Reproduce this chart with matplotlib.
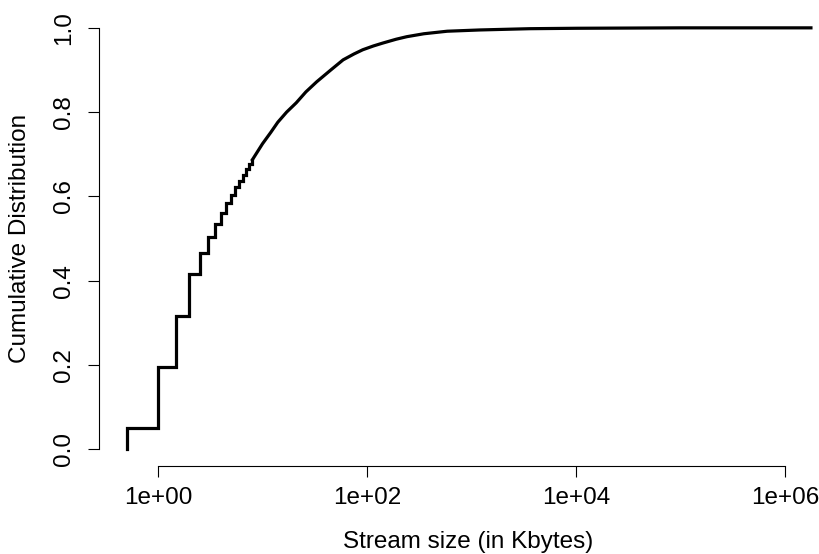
import matplotlib
matplotlib.use("Agg")
import matplotlib.pyplot as plt

plt.rcParams['font.family'] = ['Liberation Sans', 'DejaVu Sans']

# stream sizes (Kbytes) where the ECDF jumps, small discrete sizes
step_sizes = [0.5, 0.5, 1.0, 1.5, 2.0, 2.5, 3.0, 3.5, 4.0, 4.5, 5.0, 5.5, 6.0, 6.5, 7.0, 7.5, 8.0]
step_cdf = [0.0, 0.05, 0.195, 0.316, 0.416, 0.466, 0.504, 0.534, 0.56, 0.584, 0.603, 0.622,
            0.637, 0.651, 0.664, 0.676, 0.687]

# larger streams, where the steps merge into a smooth curve
tail_sizes = [8, 10, 12, 14, 17, 21, 26, 33, 45, 59, 75, 91, 115, 142, 190, 240, 350,
              585, 1200, 3600, 10000, 100000, 1770000]
tail_cdf = [0.687, 0.725, 0.752, 0.776, 0.80, 0.822, 0.848, 0.872, 0.90, 0.924, 0.938,
            0.948, 0.957, 0.964, 0.973, 0.979, 0.986, 0.992, 0.995, 0.998, 0.999, 1.0, 1.0]

x_ticks = [1, 100, 10000, 1000000]
x_tick_labels = ['1e+00', '1e+02', '1e+04', '1e+06']
y_ticks = [0.0, 0.2, 0.4, 0.6, 0.8, 1.0]

fig = plt.figure(figsize=(8.2, 5.54), dpi=100)
# plot region runs slightly past the right edge of the figure
ax = fig.add_axes([99 / 820, (554 - 466) / 554, (838 - 99) / 820, (466 - 11) / 554])

ax.step(step_sizes, step_cdf, where='post', color='black', lw=2.3, solid_joinstyle='miter')
ax.plot(tail_sizes, tail_cdf, color='black', lw=2.3, solid_joinstyle='round')

ax.set_xscale('log')
ax.set_xlim(10 ** -0.565, 10 ** 6.507)
ax.set_ylim(-0.04, 1.04)

# R-style axes: only left and bottom, limited to the tick range
for side in ['top', 'right']:
    ax.spines[side].set_visible(False)
ax.spines['left'].set_bounds(0, 1)
ax.spines['bottom'].set_bounds(1, 1000000)
for side in ['left', 'bottom']:
    ax.spines[side].set_linewidth(0.8)

ax.set_xticks(x_ticks)
ax.set_xticklabels(x_tick_labels)
ax.xaxis.set_minor_locator(matplotlib.ticker.NullLocator())
ax.set_yticks(y_ticks)
ax.set_yticklabels(['%.1f' % v for v in y_ticks], rotation=90, va='center')
ax.tick_params(axis='both', length=8, width=0.8, labelsize=17.5)
ax.tick_params(axis='x', pad=7)
ax.tick_params(axis='y', pad=9)

ax.set_xlabel('Stream size (in Kbytes)', fontsize=17.5, labelpad=16)
ax.set_ylabel('Cumulative Distribution', fontsize=17.5, labelpad=16)

fig.savefig('out.png', dpi=100)
